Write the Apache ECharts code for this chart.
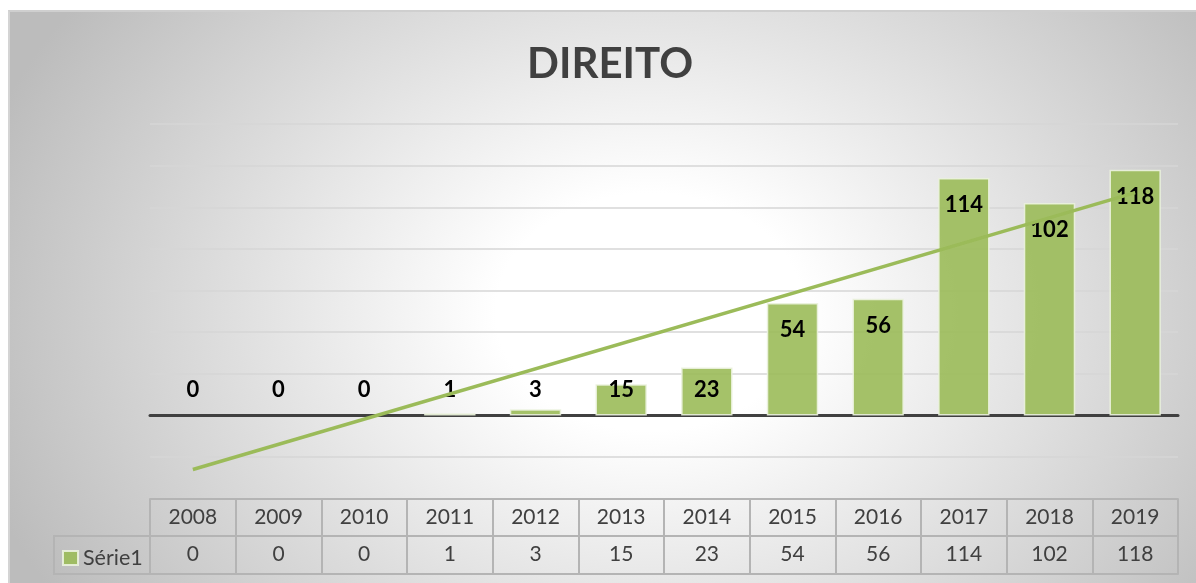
<!DOCTYPE html>
<html>
<head>
<meta charset="utf-8">
<script src="https://cdn.jsdelivr.net/npm/echarts@6/dist/echarts.min.js"></script>
<style>
  body { margin: 0; background: #ffffff; }
  #bg {
    position: absolute; left: 8px; top: 10px; width: 1188px; height: 573px;
    border-top: 2px solid #cfcfcf; border-left: 2px solid #d4d4d4;
    background: radial-gradient(ellipse 700px 540px at 640px 300px, #ffffff 0%, #ffffff 22%, #bcbcbc 100%);
  }
  #chart { position: absolute; left: 0; top: 0; width: 1196px; height: 583px; }
</style>
</head>
<body>
<div id="bg"></div>
<div id="chart"></div>
<script>
// data
const categories = ['2008', '2009', '2010', '2011', '2012', '2013', '2014', '2015', '2016', '2017', '2018', '2019'];
const seriesValues = [0, 0, 0, 1, 3, 15, 23, 54, 56, 114, 102, 118];
const trendStartEnd = [-26, 107]; // trendline ends
const yMin = -20;
const yMax = 140;
const yStep = 20;

const seriesName = 'Série1';
const green = '#9bbb59';
const textGray = '#404040';
const tableLine = '#b4b4b4';
const font = 'Lato';

const gridLeft = 150;
const gridRight = 18;
const gridTop = 124;
const gridBottom = 126;

const trendData = categories.map((c, i) => {
  if (i === 0) return trendStartEnd[0];
  if (i === categories.length - 1) return trendStartEnd[1];
  return null;
});

const barData = seriesValues.map((v) => ({
  value: v,
  itemStyle: v === 0 ? { borderWidth: 0 } : undefined,
  label: v < 30
    ? { position: 'insideBottom', distance: 14 }
    : { position: 'insideTop', distance: 16 }
}));

const chart = echarts.init(document.getElementById('chart'), null, { renderer: 'canvas' });

const tableAxis = (offset, extra) => Object.assign({
  type: 'category',
  data: categories,
  position: 'bottom',
  offset: offset,
  boundaryGap: true,
  axisLine: { show: true, onZero: false, lineStyle: { color: tableLine, width: 2 } },
  axisTick: { show: false },
  axisLabel: { show: false },
  splitLine: { show: false }
}, extra);

chart.setOption({
  animation: false,
  backgroundColor: 'transparent',
  textStyle: { fontFamily: font },
  title: {
    text: 'DIREITO',
    left: 527,
    top: 43,
    padding: 0,
    textStyle: { fontSize: 42, fontWeight: 'bold', color: textGray, fontFamily: font }
  },
  legend: {
    data: [seriesName],
    left: 62,
    top: 547,
    icon: 'rect',
    itemWidth: 15,
    itemHeight: 14,
    padding: 0,
    textStyle: { fontSize: 21.5, color: textGray, fontFamily: font }
  },
  grid: { left: gridLeft, right: gridRight, top: gridTop, bottom: gridBottom },
  xAxis: [
    {
      type: 'category',
      data: categories,
      boundaryGap: true,
      axisLine: { show: true, onZero: true, lineStyle: { color: textGray, width: 3 } },
      axisTick: { show: false },
      axisLabel: { show: false },
      splitLine: { show: false }
    },
    tableAxis(42, {
      axisTick: { show: true, alignWithLabel: false, length: 75, interval: 0, lineStyle: { color: tableLine, width: 2 } },
      axisLabel: { show: true, interval: 0, margin: 8, fontSize: 21, color: textGray, fontFamily: font }
    }),
    tableAxis(79, {
      axisLabel: {
        show: true, interval: 0, margin: 8, fontSize: 21, color: textGray, fontFamily: font,
        formatter: (value, index) => String(seriesValues[index])
      }
    }),
    tableAxis(117, {})
  ],
  yAxis: {
    type: 'value',
    min: yMin,
    max: yMax,
    interval: yStep,
    axisLine: { show: false },
    axisTick: { show: false },
    axisLabel: { show: false },
    splitLine: { show: true, lineStyle: { color: '#d6d6d6', width: 1.5 } }
  },
  graphic: [
    {
      type: 'rect',
      silent: true,
      shape: { x: 54, y: 536, width: gridLeft - 54, height: 38 },
      style: { fill: 'none', stroke: tableLine, lineWidth: 2 }
    }
  ],
  series: [
    {
      name: seriesName,
      type: 'bar',
      xAxisIndex: 0,
      barWidth: '60%',
      data: barData,
      itemStyle: { color: 'rgba(155,187,89,0.9)', borderColor: 'rgba(235,242,222,0.9)', borderWidth: 1.5 },
      label: {
        show: true,
        color: '#000000',
        fontSize: 22,
        fontWeight: 'bold',
        fontFamily: font
      },
      z: 2
    },
    {
      name: 'trend',
      type: 'line',
      xAxisIndex: 0,
      data: trendData,
      connectNulls: true,
      clip: false,
      symbol: 'none',
      lineStyle: { color: green, width: 3.5 },
      z: 3
    }
  ]
});
</script>
</body>
</html>
